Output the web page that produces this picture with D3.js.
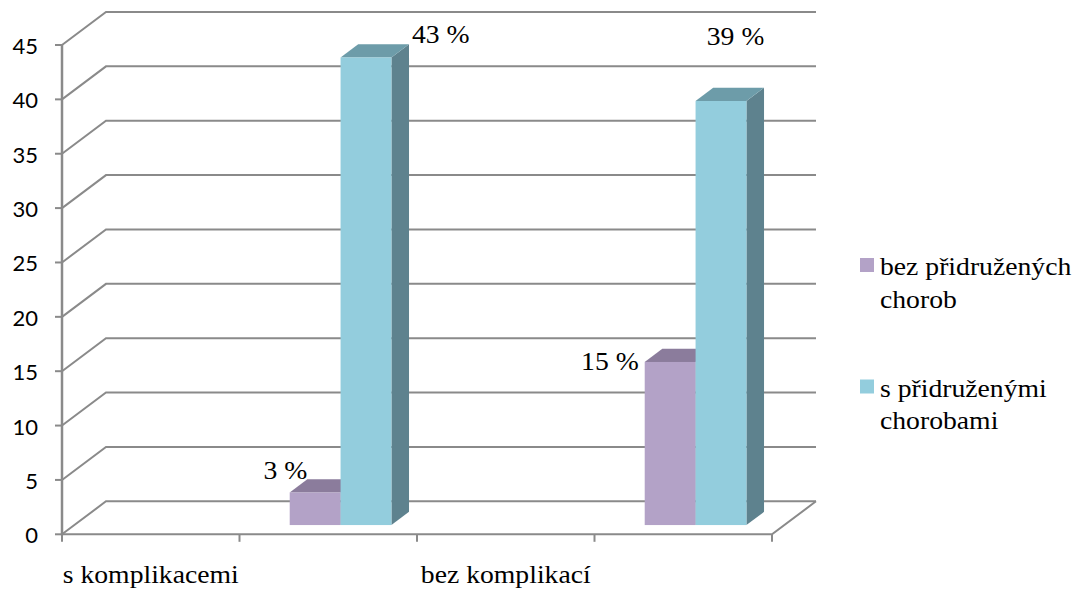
<!DOCTYPE html>
<html>
<head>
<meta charset="utf-8">
<script src="https://cdn.jsdelivr.net/npm/d3@7"></script>
<style>
  body { margin: 0; background: #fff; }
</style>
</head>
<body>
<svg id="chart" width="1083" height="588">
  <style>
    text.serif { font-family: "Liberation Serif"; font-size: 24.5px; fill: #000; }
    text.num { font-family: Lato; font-size: 22px; fill: #000; }
  </style>
</svg>
<script>
// ---- data ----
const categories = ["s komplikacemi", "bez komplikací"];
const seriesNames = ["bez přidružených chorob", "s přidruženými chorobami"];
const bezChorob = [3, 15];        // bez přidružených chorob (%)
const sChorobami = [43, 39];      // s přidruženými chorobami (%)
const yTicks = [0, 5, 10, 15, 20, 25, 30, 35, 40, 45];
const legendLines = [["bez přidružených", "chorob"], ["s přidruženými", "chorobami"]];

// ---- layout ----
const left = 62, right = 772, floorY = 534.3, topY = 45;
const DX = 44, DY = 33;            // oblique depth of the floor / walls
const barD0 = 0.28, barD1 = 0.68;  // bar depth span (fraction of floor depth)
const gridColor = "#8a8a8a";
const colors = [
  { front: "#b3a2c7", top: "#8b7c9c", side: "#7d6f8e" },
  { front: "#93cddd", top: "#6d9ca9", side: "#5e828e" }
];
const serifStretch = 1.13;

const svg = d3.select("#chart");

const yScale = d3.scaleLinear().domain([0, 45]).range([floorY, topY]);
// four equal slots along the category axis: label slot + bar slot per category
const slots = d3.scaleBand().domain([0, 1, 2, 3]).range([left, right]).padding(0);
const inner = d3.scaleBand().domain([0, 1]).range([0, slots.bandwidth()])
  .paddingInner(0).paddingOuter(0.745);

const P = (x, v, d) => [x + DX * d, yScale(v) - DY * d];

// ---- back wall gridlines with left-wall diagonals ----
svg.selectAll("path.grid").data(yTicks).join("path")
  .attr("class", "grid")
  .attr("d", v => {
    const a = P(left, v, 0), b = P(left, v, 1), c = P(right, v, 1);
    return `M${a}L${b}L${c}`;
  })
  .attr("fill", "none").attr("stroke", gridColor).attr("stroke-width", 2);

// floor front and right edges
svg.append("path")
  .attr("d", `M${P(left, 0, 0)}L${P(right, 0, 0)}L${P(right, 0, 1)}`)
  .attr("fill", "none").attr("stroke", gridColor).attr("stroke-width", 2);

// value axis
svg.append("line")
  .attr("x1", left).attr("x2", left).attr("y1", floorY + 1).attr("y2", topY)
  .attr("stroke", gridColor).attr("stroke-width", 2.5);
svg.selectAll("line.ytick").data(yTicks).join("line")
  .attr("class", "ytick")
  .attr("x1", left - 7).attr("x2", left).attr("y1", d => yScale(d)).attr("y2", d => yScale(d))
  .attr("stroke", gridColor).attr("stroke-width", 2);
svg.selectAll("text.num").data(yTicks).join("text")
  .attr("class", "num")
  .attr("x", 38).attr("y", d => yScale(d) + 9)
  .attr("font-family", "Lato").attr("font-size", 22)
  .attr("text-anchor", "end")
  .text(d => d);

// category axis ticks at slot boundaries
const catTicks = slots.domain().map(s => slots(s)).concat([right]);
svg.selectAll("line.xtick").data(catTicks).join("line")
  .attr("class", "xtick")
  .attr("x1", d => d).attr("x2", d => d).attr("y1", floorY).attr("y2", floorY + 7.5)
  .attr("stroke", gridColor).attr("stroke-width", 2);

// serif text, glyphs slightly widened
function serifText(x, yy, txt, anchor) {
  svg.append("text")
    .attr("class", "serif")
    .attr("x", 0).attr("y", 0)
    .attr("transform", `translate(${x},${yy}) scale(${serifStretch},1)`)
    .attr("font-family", "Liberation Serif").attr("font-size", 24.5)
    .attr("text-anchor", anchor)
    .text(txt);
}

// category labels
categories.forEach((c, i) => {
  serifText(slots(2 * i) + slots.bandwidth() / 2, 582.5, c, "middle");
});

// ---- bars ----
const series = [bezChorob, sChorobami];
const corners = [];
categories.forEach((c, ci) => {
  const x0slot = slots(2 * ci + 1);
  corners[ci] = [];
  series.forEach((vals, si) => {
    const v = vals[ci];
    const xl = x0slot + inner(si), xr = xl + inner.bandwidth();
    const col = colors[si];
    const fl = P(xl, v, barD0), fr = P(xr, v, barD0);
    const bl = P(xl, v, barD1), br = P(xr, v, barD1);
    const fb = P(xr, 0, barD0), bb = P(xr, 0, barD1);
    const base = P(xl, 0, barD0);
    // side face
    svg.append("path")
      .attr("d", `M${fr}L${br}L${bb}L${fb}Z`).attr("fill", col.side);
    // top face
    svg.append("path")
      .attr("d", `M${fl}L${fr}L${br}L${bl}Z`).attr("fill", col.top);
    // front face
    svg.append("rect")
      .attr("x", fl[0]).attr("y", fl[1])
      .attr("width", xr - xl).attr("height", base[1] - fl[1])
      .attr("fill", col.front);
    corners[ci][si] = { fl, fr, bl, br, v };
  });
});

// value labels placed around each bar's top
const labelPlacement = [
  [ { at: "bl", anchor: "end", dx: 0, dy: 0 },  { at: "br", anchor: "start", dx: 3, dy: -1 } ],
  [ { at: "fl", anchor: "end", dx: -6, dy: 8 }, { at: "bc", anchor: "middle", dx: -3, dy: -43 } ]
];
categories.forEach((c, ci) => {
  series.forEach((vals, si) => {
    const k = corners[ci][si];
    const pl = labelPlacement[ci][si];
    const pt = pl.at === "bc"
      ? [(k.bl[0] + k.br[0]) / 2, k.bl[1]]
      : k[pl.at];
    serifText(pt[0] + pl.dx, pt[1] + pl.dy, `${vals[ci]} %`, pl.anchor);
  });
});

// ---- legend ----
const legendTops = [275, 396.5];
legendLines.forEach((lines, i) => {
  svg.append("rect")
    .attr("x", 860).attr("y", legendTops[i] - 17)
    .attr("width", 14).attr("height", 14)
    .attr("fill", colors[i].front);
  lines.forEach((ln, j) => {
    serifText(880, legendTops[i] + j * 32.5, ln, "start");
  });
});
</script>
</body>
</html>
